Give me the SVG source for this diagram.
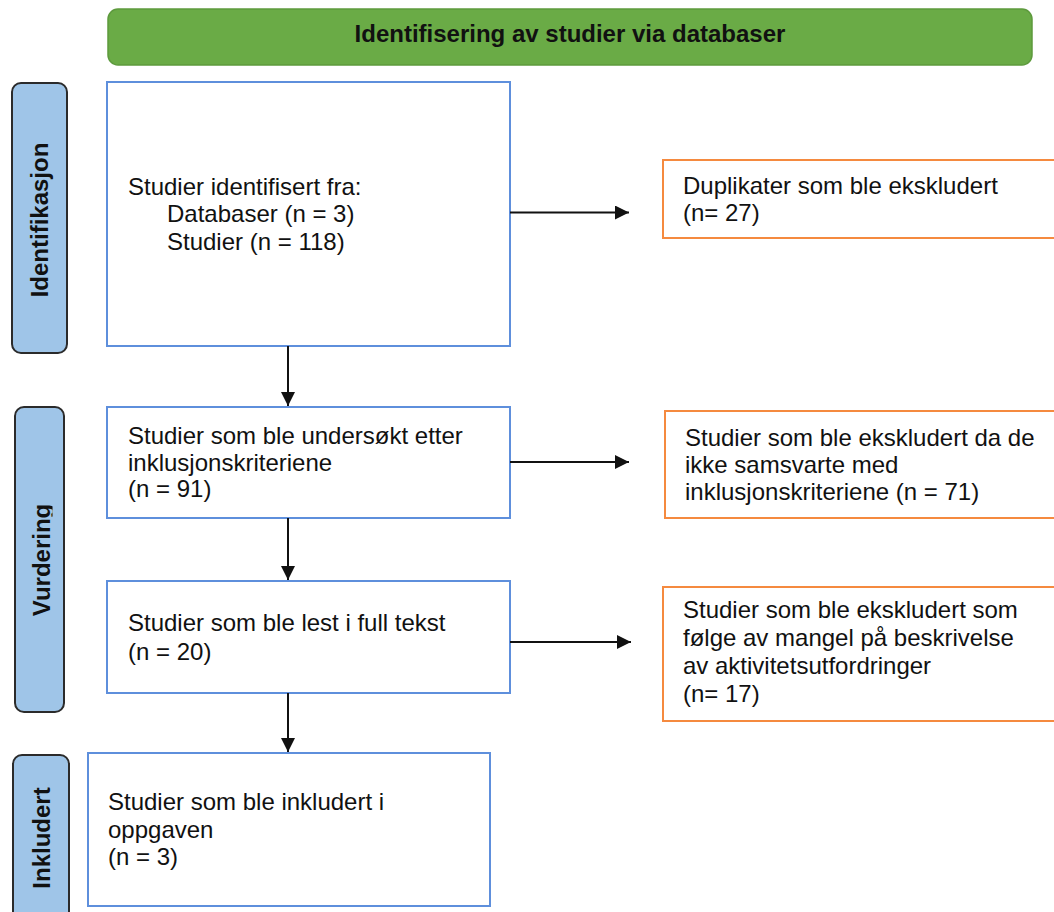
<svg xmlns="http://www.w3.org/2000/svg" width="1054" height="912" viewBox="0 0 1054 912">
<style>
.t{font-family:"Liberation Sans",Arial,Helvetica,sans-serif;font-size:24px;fill:#111}
.b{font-family:"Liberation Sans",Arial,Helvetica,sans-serif;font-size:24px;font-weight:bold;fill:#111}
.blue{fill:#fff;stroke:#5e8fdc;stroke-width:2}
.orange{fill:#fff;stroke:#f58a3f;stroke-width:2}
.lab{fill:#9fc5e8;stroke:#2b2b2b;stroke-width:2}
.con{stroke:#111;stroke-width:2;fill:none}
</style>
<defs>
<marker id="ah" viewBox="0 0 10 10" refX="10" refY="5" markerWidth="15" markerHeight="14" markerUnits="userSpaceOnUse" orient="auto">
<path d="M0,0 L10,5 L0,10 z" fill="#111"/>
</marker>
<clipPath id="vclip"><rect x="0" y="400" width="52.5" height="320"/></clipPath>
</defs>
<rect width="1054" height="912" fill="#fff"/>

<g id="header">
<rect x="108" y="9" width="924" height="56" rx="10" fill="#6aab46" stroke="#5d9a3d" stroke-width="1.5"/>
<text class="b" x="570" y="42" text-anchor="middle">Identifisering av studier via databaser</text>
</g>

<g id="label-identifikasjon">
<rect class="lab" x="12" y="83" width="55" height="270" rx="9"/>
<text class="b" transform="translate(48,220) rotate(-90)" text-anchor="middle">Identifikasjon</text>
</g>
<g id="label-vurdering">
<rect class="lab" x="15" y="407" width="49" height="305" rx="9"/>
<g clip-path="url(#vclip)"><text class="b" transform="translate(50,560) rotate(-90)" text-anchor="middle">Vurdering</text></g>
</g>
<g id="label-inkludert">
<rect class="lab" x="13" y="755" width="56" height="180" rx="9"/>
<text class="b" transform="translate(50,838) rotate(-90)" text-anchor="middle">Inkludert</text>
</g>

<g id="box-identified">
<rect class="blue" x="107" y="82" width="403" height="264"/>
<text class="t" x="128" y="195">Studier identifisert fra:</text>
<text class="t" x="167" y="222">Databaser (n = 3)</text>
<text class="t" x="167" y="250">Studier (n = 118)</text>
</g>
<g id="box-duplicates">
<rect class="orange" x="663" y="160" width="400" height="78"/>
<text class="t" x="683" y="194">Duplikater som ble ekskludert</text>
<text class="t" x="683" y="221">(n= 27)</text>
</g>
<g id="box-screened">
<rect class="blue" x="107" y="407" width="403" height="111"/>
<text class="t" x="128" y="444">Studier som ble undersøkt etter</text>
<text class="t" x="128" y="471">inklusjonskriteriene</text>
<text class="t" x="128" y="497">(n = 91)</text>
</g>
<g id="box-excluded-criteria">
<rect class="orange" x="665" y="411" width="400" height="107"/>
<text class="t" x="685" y="446">Studier som ble ekskludert da de</text>
<text class="t" x="685" y="473">ikke samsvarte med</text>
<text class="t" x="685" y="500">inklusjonskriteriene (n = 71)</text>
</g>
<g id="box-fulltext">
<rect class="blue" x="107" y="581" width="403" height="112"/>
<text class="t" x="128" y="631">Studier som ble lest i full tekst</text>
<text class="t" x="128" y="660">(n = 20)</text>
</g>
<g id="box-excluded-fulltext">
<rect class="orange" x="663" y="587" width="400" height="134"/>
<text class="t" x="683" y="618">Studier som ble ekskludert som</text>
<text class="t" x="683" y="646">følge av mangel på beskrivelse</text>
<text class="t" x="683" y="674">av aktivitetsutfordringer</text>
<text class="t" x="683" y="702">(n= 17)</text>
</g>
<g id="box-included">
<rect class="blue" x="88" y="753" width="402" height="153"/>
<text class="t" x="108" y="810">Studier som ble inkludert i</text>
<text class="t" x="108" y="838">oppgaven</text>
<text class="t" x="108" y="865">(n = 3)</text>
</g>

<g id="connectors">
<path class="con" d="M510,212.5 H629" marker-end="url(#ah)"/>
<path class="con" d="M510,462 H629" marker-end="url(#ah)"/>
<path class="con" d="M510,642 H631" marker-end="url(#ah)"/>
<path class="con" d="M288,346 V406" marker-end="url(#ah)"/>
<path class="con" d="M288,518 V580" marker-end="url(#ah)"/>
<path class="con" d="M288,693 V752" marker-end="url(#ah)"/>
</g>
</svg>
